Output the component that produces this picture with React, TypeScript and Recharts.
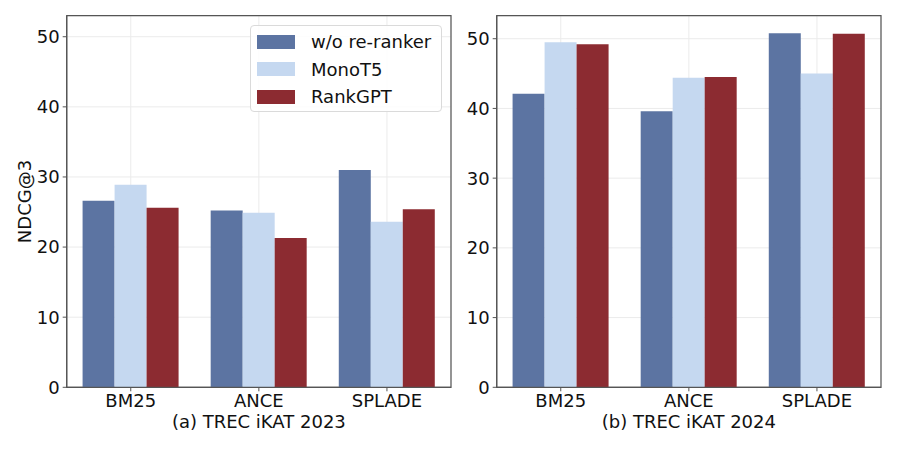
import React from 'react';
import {
  BarChart,
  Bar,
  XAxis,
  YAxis,
  CartesianGrid,
  ReferenceArea,
} from 'recharts';

const categories = ['BM25', 'ANCE', 'SPLADE'];
const seriesNames = ['w/o re-ranker', 'MonoT5', 'RankGPT'];

const noReranker2023 = [26.6, 25.2, 31.0];
const monoT5_2023 = [28.9, 24.9, 23.6];
const rankGpt2023 = [25.6, 21.3, 25.4];

const noReranker2024 = [42.1, 39.6, 50.8];
const monoT5_2024 = [49.5, 44.4, 45.0];
const rankGpt2024 = [49.2, 44.5, 50.7];

const yTicks = [0, 10, 20, 30, 40, 50];

const COLORS = ['#5c74a2', '#c5d8f0', '#8c2b31'];
const FONT = 'DejaVu Sans';
const SPINE = '#555555';

function buildRows(a: number[], b: number[], c: number[]) {
  return categories.map((name, i) => ({ name, base: a[i], mono: b[i], rank: c[i] }));
}

const data2023 = buildRows(noReranker2023, monoT5_2023, rankGpt2023);
const data2024 = buildRows(noReranker2024, monoT5_2024, rankGpt2024);

function LegendBox() {
  return (
    <div
      style={{
        position: 'absolute',
        left: 250,
        top: 25,
        width: 192,
        height: 87,
        boxSizing: 'border-box',
        border: '1px solid #dadada',
        borderRadius: 4,
        background: 'rgba(255,255,255,0.85)',
        paddingTop: 2,
        fontFamily: FONT,
        fontSize: 18,
        color: '#111',
      }}
    >
      {seriesNames.map((n, i) => (
        <div key={n} style={{ display: 'flex', alignItems: 'center', height: 27.5 }}>
          <div style={{ width: 38, height: 14, marginLeft: 6, marginRight: 16, background: COLORS[i] }} />
          <span>{n}</span>
        </div>
      ))}
    </div>
  );
}

function YLabel() {
  return (
    <text
      x={31}
      y={201.5}
      transform='rotate(-90 31 201.5)'
      textAnchor='middle'
      fontFamily={FONT}
      fontSize={18}
      fill='#111'
    >
      NDCG@3
    </text>
  );
}

interface PanelProps {
  data: { name: string; base: number; mono: number; rank: number }[];
  title: string;
  width: number;
  yWidth: number;
  right: number;
  yMax: number;
  showYLabel?: boolean;
}

function Panel({ data, title, width, yWidth, right, yMax, showYLabel }: PanelProps) {
  const tickStyle = { fontFamily: FONT, fontSize: 18, fill: '#111' };
  return (
    <BarChart
      width={width}
      height={449}
      data={data}
      margin={{ top: 15.7, right, left: 0, bottom: 0 }}
      barCategoryGap='12.4%'
      barGap={0}
    >
      <CartesianGrid stroke='#ebebeb' strokeWidth={1} />
      <XAxis
        dataKey='name'
        height={61.7}
        tick={tickStyle}
        tickSize={4}
        tickMargin={3}
        axisLine={{ stroke: SPINE, strokeWidth: 1.2 }}
        tickLine={{ stroke: SPINE }}
        label={{
          value: title,
          position: 'insideBottom',
          offset: 21,
          style: { fontFamily: FONT, fontSize: 18, fill: '#111' },
        }}
      />
      <YAxis
        width={yWidth}
        domain={[0, yMax]}
        ticks={yTicks}
        tick={tickStyle}
        tickSize={4}
        tickMargin={3}
        axisLine={{ stroke: SPINE, strokeWidth: 1.2 }}
        tickLine={{ stroke: SPINE }}
        label={showYLabel ? <YLabel /> : undefined}
      />
      <Bar dataKey='base' name={seriesNames[0]} fill={COLORS[0]} isAnimationActive={false} />
      <Bar dataKey='mono' name={seriesNames[1]} fill={COLORS[1]} isAnimationActive={false} />
      <Bar dataKey='rank' name={seriesNames[2]} fill={COLORS[2]} isAnimationActive={false} />
      <ReferenceArea
        x1={categories[0]}
        x2={categories[categories.length - 1]}
        y1={0}
        y2={yMax}
        fill='none'
        fillOpacity={0}
        stroke={SPINE}
        strokeWidth={1.2}
        ifOverflow='visible'
      />
    </BarChart>
  );
}

export default function App() {
  return (
    <div style={{ position: 'absolute', left: 0, top: 0, width: 897, height: 449, background: '#fff' }}>
      <div style={{ position: 'absolute', left: 0, top: 0 }}>
        <Panel
          data={data2023}
          title='(a) TREC iKAT 2023'
          width={460}
          yWidth={66.7}
          right={9}
          yMax={53}
          showYLabel
        />
      </div>
      <div style={{ position: 'absolute', left: 460, top: 0 }}>
        <Panel
          data={data2024}
          title='(b) TREC iKAT 2024'
          width={437}
          yWidth={36.7}
          right={16}
          yMax={53.3}
        />
      </div>
      <LegendBox />
    </div>
  );
}
